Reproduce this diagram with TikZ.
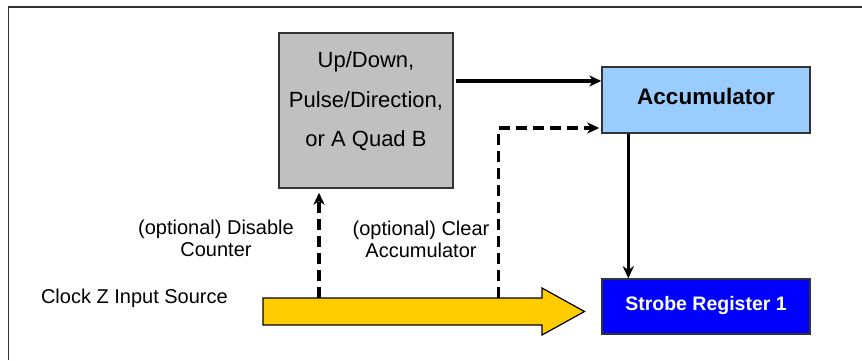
\documentclass[tikz,border=0pt]{standalone}
\usepackage{fontspec}
\setmainfont{Liberation Sans}
\usepackage{tikz}
\usetikzlibrary{arrows.meta,positioning,calc}
\usepackage{xcolor}
\definecolor{boxgray}{HTML}{C0C0C0}
\definecolor{accblue}{HTML}{99CCFF}
\definecolor{regblue}{HTML}{0000FF}
\definecolor{clockyellow}{HTML}{FFCC00}
\definecolor{edgegray}{HTML}{333333}

\begin{document}
\begin{tikzpicture}[x=1pt, y=1pt,
    block/.style={draw=edgegray, line width=1.4pt, inner sep=0pt},
    link/.style={line width=3.2pt, -{Stealth[length=12pt, width=11pt, inset=3.5pt]}},
    optlink/.style={link, dashed, dash pattern=on 11pt off 6pt}]
    \useasboundingbox (0,0) rectangle (862,360);

    % Cadre
    \draw[line width=1.5pt, edgegray] (8.5,0) -- (8.5,353) -- (862,353);

    % Blocs
    \node[block, fill=boxgray, minimum width=174pt, minimum height=155pt] (counter) at (366,249.5) {};
    \node[align=center, font=\fontsize{22}{39.5}\selectfont] (countertext) at ($(counter.center)+(0,9)$)
        {Up/Down,\\Pulse/Direction,\\or A Quad B};
    \node[block, fill=accblue, minimum width=208pt, minimum height=66pt,
        font=\fontsize{22.5}{26}\selectfont\bfseries, text depth=8pt] (acc) at (706,260) {Accumulator};
    \node[block, fill=regblue, text=white, minimum width=208pt, minimum height=55pt,
        font=\fontsize{19.5}{23}\selectfont\bfseries, text depth=7pt] (strobe) at (706,53.5) {Strobe Register 1};

    % Fleche d'horloge
    \coordinate (clkA) at (319,62);
    \coordinate (clkB) at (498.5,62);
    \draw[line width=1.2pt, fill=clockyellow] (263,62) -- (542,62) -- (542,72) -- (584.5,48.5)
        -- (542,25) -- (542,35) -- (263,35) -- cycle;

    % Liaisons
    \draw[link] (counter.east |- 0,279) ++(2.5,0) -- (acc.west |- 0,279);
    \draw[link] (acc.south -| 628.3,0) -- (strobe.north -| 628.3,0);
    \draw[optlink, shorten >=4pt] (clkA) -- (clkA |- counter.south);
    \draw[optlink, shorten >=2pt] (clkB) -- (498.5,232) -- (acc.west |- 0,232);

    % Textes
    \node[anchor=west, font=\fontsize{20}{22}\selectfont] (clocklabel) at (37.5,62) {Clock Z Input Source};
    \node[align=center, font=\fontsize{20}{22}\selectfont] (disablelabel) at (216,121.5) {(optional) Disable\\Counter};
    \node[align=center, font=\fontsize{20}{22}\selectfont] (clearlabel) at (421,120.5) {(optional) Clear\\Accumulator};
\end{tikzpicture}
\end{document}
